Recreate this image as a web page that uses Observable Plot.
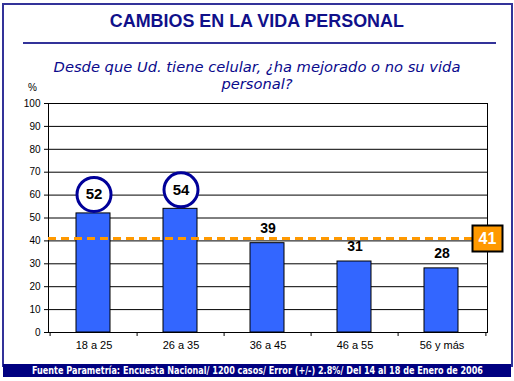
<!DOCTYPE html>
<html>
<head>
<meta charset="utf-8">
<script src="https://cdn.jsdelivr.net/npm/d3@7"></script>
<script src="https://cdn.jsdelivr.net/npm/@observablehq/plot@0.6"></script>
<style>
  html, body { margin: 0; padding: 0; background: #fff; }
  #wrap { position: relative; width: 514px; height: 381px; overflow: hidden; background: #fff; }
  #wrap svg.plot { position: absolute; left: 0; top: 0; }
  .ov { position: absolute; white-space: nowrap; }
  #border { position: absolute; left: 2px; top: 3px; width: 507px; height: 362px; border: 2px solid #333399; border-bottom: none; box-sizing: content-box; }
  #title { left: 0; width: 514px; top: 11px; text-align: center; font: bold 18px "Liberation Sans", Arial, sans-serif; color: #10108a; }
  #rule { position: absolute; left: 23px; top: 42px; width: 473px; height: 2px; background: #333399; }
  #subtitle { left: 0; width: 514px; top: 58px; text-align: center; font: italic 14.7px "DejaVu Sans", Verdana, sans-serif; line-height: 17px; color: #0a0a8c; }
  #pct { left: 28px; top: 82px; font: 10px "Liberation Sans", Arial, sans-serif; color: #000; }
  #footer { position: absolute; left: 3px; top: 364px; width: 508px; height: 13px; background: #000080; overflow: hidden; }
  #footerText { position: absolute; left: 0; top: 0; display: inline-block; white-space: nowrap; font: bold 11px "DejaVu Sans Condensed", "Liberation Sans", sans-serif; color: #fff; line-height: 13px; transform-origin: 0 0; }
</style>
</head>
<body>
<div id="wrap">
  <div id="border"></div>
  <div id="title" class="ov"><span id="titleText">CAMBIOS EN LA VIDA PERSONAL</span></div>
  <div id="rule"></div>
  <div id="subtitle" class="ov">Desde que Ud. tiene celular, ¿ha mejorado o no su vida<br>personal?</div>
  <div id="pct" class="ov">%</div>
  <div id="footer"><span id="footerText">Fuente Parametría: Encuesta Nacional/ 1200 casos/ Error (+/-) 2.8%/ Del 14 al 18 de Enero de 2006</span></div>
</div>
<script>
// ---- data ----
const categories = ["18 a 25", "26 a 35", "36 a 45", "46 a 55", "56 y más"];
const values = [52, 54, 39, 31, 28];
const circled = [true, true, false, false, false];
const average = [41];
const yTicks = [0, 10, 20, 30, 40, 50, 60, 70, 80, 90, 100];

const rows = categories.map((c, i) => ({cat: c, value: values[i], circled: circled[i]}));

const W = 514, H = 381, ML = 48, MR = 27, MT = 103, MB = 49;
const bw = (W - ML - MR) / categories.length;

const boxSymbol = {
  draw(ctx) {
    ctx.moveTo(-15, -13); ctx.lineTo(15, -13); ctx.lineTo(15, 13); ctx.lineTo(-15, 13); ctx.closePath();
  }
};

const boundaries = categories.map((c, i) => ({cat: c, dx: -bw / 2}))
  .concat([{cat: categories[categories.length - 1], dx: bw / 2}]);

const chart = Plot.plot({
  width: W, height: H,
  marginLeft: ML, marginRight: MR, marginTop: MT, marginBottom: MB,
  style: {background: "transparent", fontFamily: "'Liberation Sans', Arial, sans-serif", color: "black"},
  x: {domain: categories, padding: 0, label: null},
  y: {domain: [0, 100], label: null},
  marks: [
    Plot.gridY(yTicks, {stroke: "black", strokeOpacity: 1}),
    Plot.frame({stroke: "black"}),
    Plot.barY(rows, {x: "cat", y: "value", fill: "#3366FF", stroke: "black", strokeWidth: 1, insetLeft: 26, insetRight: 27}),
    Plot.ruleY(average, {y: d => d, stroke: "#FF9900", strokeWidth: 3, strokeDasharray: "8,5"}),
    Plot.axisY({ticks: yTicks, tickSize: 4, tickPadding: 4, fontSize: 10, label: null}),
    Plot.axisX({tickSize: 0, tickPadding: 9, fontSize: 11, label: null}),
    ...boundaries.map(b => Plot.ruleX([b], {x: "cat", y1: 0, y2: 0, insetBottom: -4, dx: b.dx, stroke: "black"})),
    Plot.dot(rows.filter(d => d.circled), {x: "cat", y: "value", dy: -19, r: 17, fill: "white", stroke: "#000099", strokeWidth: 3}),
    Plot.text(rows.filter(d => d.circled), {x: "cat", y: "value", dy: -19, text: d => String(d.value), fontSize: 15, fontWeight: "bold", fill: "black"}),
    Plot.text(rows.filter(d => !d.circled), {x: "cat", y: "value", dy: -15, text: d => String(d.value), fontSize: 14, fontWeight: "bold", fill: "black"}),
    Plot.dot(average, {y: d => d, frameAnchor: "right", symbol: boxSymbol, r: 10, fill: "#FF9900", stroke: "black", strokeWidth: 2}),
    Plot.text(average, {y: d => d, frameAnchor: "right", textAnchor: "middle", text: d => String(d), fontSize: 16, fontWeight: "bold", fill: "white"})
  ]
});
chart.classList.add("plot");
document.getElementById("wrap").insertBefore(chart, document.getElementById("border").nextSibling);

// fit footer text width
const ft = document.getElementById("footerText");
const fw = ft.getBoundingClientRect().width;
ft.style.transform = `translateX(29px) scaleX(${451 / fw})`;
// fit title
const tt = document.getElementById("titleText");
tt.style.display = "inline-block";
const tw = tt.getBoundingClientRect().width;
tt.style.transform = `scaleX(${294 / tw})`;
</script>
</body>
</html>
